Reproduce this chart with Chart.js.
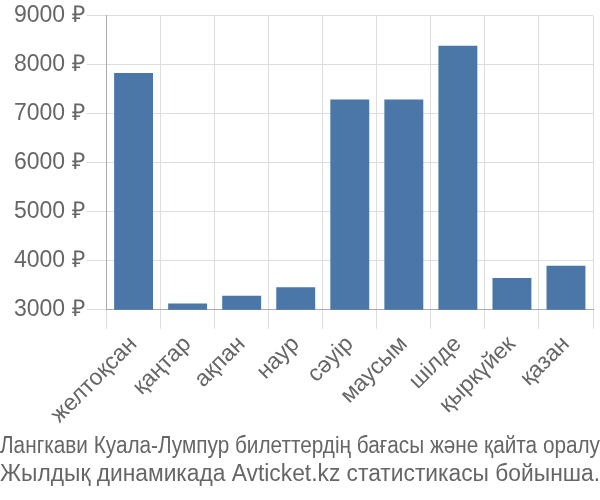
<!DOCTYPE html>
<html>
<head>
<meta charset="utf-8">
<script src="https://cdn.jsdelivr.net/npm/chart.js@4"></script>
<style>
  body { margin: 0; background: #fff; }
  #wrap { width: 600px; height: 500px; }
</style>
</head>
<body>
<div id="wrap"><canvas id="chart" width="600" height="500"></canvas></div>
<script>
var months = ["желтоқсан", "қаңтар", "ақпан", "наур", "сәуір", "маусым", "шілде", "қыркүйек", "қазан"];
var prices = [7835, 3130, 3285, 3460, 7290, 7290, 8390, 3650, 3900];
var titleLines = [
  "Лангкави Куала-Лумпур билеттердің бағасы және қайта оралу",
  "Жылдық динамикада Avticket.kz статистикасы бойынша."
];

Chart.defaults.font.family = "'Liberation Sans', Arial, sans-serif";
Chart.defaults.font.size = 23;
Chart.defaults.color = "#666";

var ctx = document.getElementById("chart").getContext("2d");
var myChart = new Chart(ctx, {
  type: "bar",
  data: {
    labels: months,
    datasets: [
      {
        label: "price",
        data: prices,
        backgroundColor: "#4a76a8",
        borderWidth: 0
      }
    ]
  },
  options: {
    responsive: false,
    animation: false,
    layout: { padding: { top: 0, right: 0, left: 0, bottom: 12 } },
    plugins: {
      legend: { display: false },
      tooltip: { enabled: false },
      title: {
        display: true,
        position: "bottom",
        text: titleLines,
        color: "#666",
        font: { size: 23, weight: "normal", lineHeight: 1.2 },
        padding: { top: 2, bottom: 0 }
      }
    },
    scales: {
      x: {
        grid: { color: "#ddd", tickLength: 19, offset: true },
        border: { color: "#aaa" },
        ticks: { minRotation: 45, maxRotation: 45, padding: 2 }
      },
      y: {
        min: 3000,
        max: 9000,
        grid: { color: "#ddd", tickLength: 20 },
        border: { color: "#aaa" },
        ticks: {
          stepSize: 1000,
          padding: 2,
          callback: function(v) { return v + " ₽"; }
        },
        afterFit: function(scale) { scale.width += 12; }
      },
      pad: {
        position: "right",
        grid: { drawOnChartArea: false, drawTicks: false },
        border: { display: false },
        ticks: { display: false },
        afterFit: function(scale) { scale.width = 7; }
      }
    }
  }
});
</script>
</body>
</html>
